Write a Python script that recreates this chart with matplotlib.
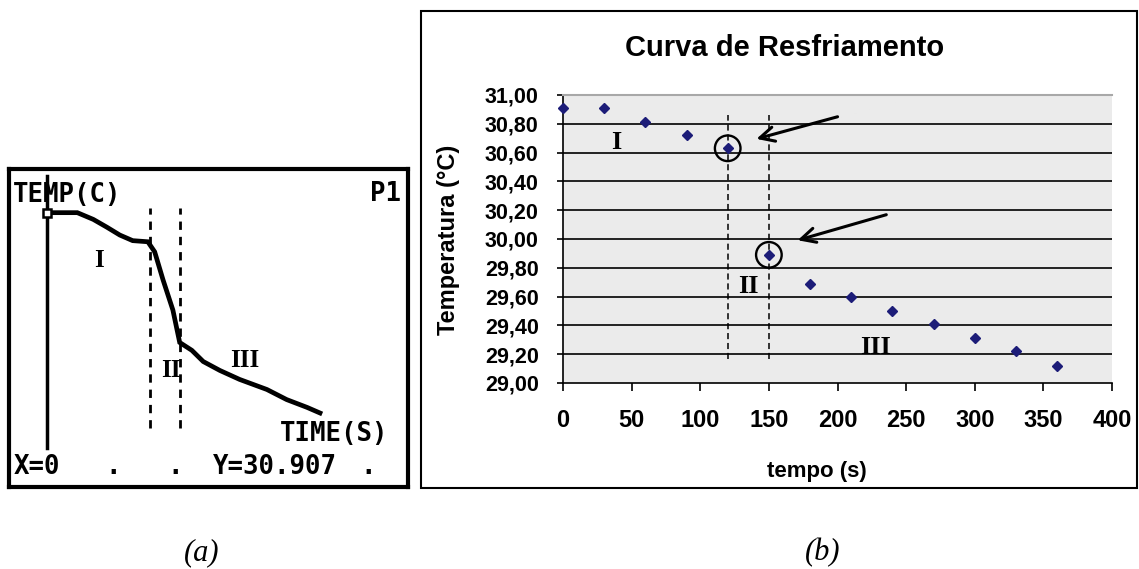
import matplotlib
matplotlib.use('Agg')
import matplotlib.pyplot as plt
from matplotlib.patches import Rectangle

# dados da planilha (grafico b)
tempo = [0, 30, 60, 90, 120, 150, 180, 210, 240, 270, 300, 330, 360]
temperatura = [30.91, 30.91, 30.81, 30.72, 30.63, 29.89, 29.69, 29.60, 29.50, 29.41, 29.31, 29.22, 29.12]
circulados = [4, 5]
limites_fase = [120, 150]
y_ticks = [29.0, 29.2, 29.4, 29.6, 29.8, 30.0, 30.2, 30.4, 30.6, 30.8, 31.0]
x_ticks = [0, 50, 100, 150, 200, 250, 300, 350, 400]

calc_t = [0, 40, 61, 79, 96, 113, 133, 142, 153, 166, 175, 191, 206, 228, 254, 290, 316, 343, 360]
calc_T = [30.91, 30.91, 30.85, 30.78, 30.71, 30.66, 30.65, 30.56, 30.31, 30.04, 29.75, 29.68,
          29.58, 29.50, 29.42, 29.33, 29.24, 29.17, 29.12]
calc_limites = [136, 175]

W, H = 1139, 569
fig = plt.figure(figsize=(11.39, 5.69), dpi=100)

sans = 'Liberation Sans'
serif = 'Liberation Serif'
mono = 'DejaVu Sans Mono'

# ---------------- (a) tela da calculadora ----------------
ax_a = fig.add_axes([9 / W, 1 - 487 / H, 399 / W, 318 / H])
k_t = 1.3187      # s por pixel
k_T = 0.008935    # graus por pixel
ax_a.set_xlim((9 - 47) * k_t, (408 - 47) * k_t)
ax_a.set_ylim(30.907 - 274 * k_T, 30.907 + 44 * k_T)
ax_a.set_xticks([])
ax_a.set_yticks([])
for s in ax_a.spines.values():
    s.set_linewidth(3)
    s.set_color('black')

ax_a.axvline(0, ymin=0.122, ymax=0.978, color='black', lw=2.5, zorder=4)
ax_a.plot(calc_t, calc_T, color='black', lw=3.4, solid_joinstyle='miter', zorder=3)
ax_a.plot(calc_t[0], calc_T[0], 's', mfc='white', mec='black', ms=6, mew=1.8, zorder=5)
ax_a.vlines(calc_limites, 28.99, 30.95, colors='black', linestyles=(0, (3, 2.5)), lw=2)

txt = dict(family=mono, fontweight='bold', fontsize=18.5, transform=ax_a.transAxes, va='center')
ax_a.text(0.010, 0.918, 'TEMP(C)', ha='left', **txt)
ax_a.text(0.905, 0.921, 'P1:', ha='left', clip_on=True, **txt)
ax_a.text(0.679, 0.166, 'TIME(S)', ha='left', **txt)
ax_a.text(0.0125, 0.063, 'X=0', ha='left', **txt)
ax_a.text(0.511, 0.063, 'Y=30.907', ha='left', **txt)
for xd in [0.261, 0.416, 0.900]:
    ax_a.text(xd, 0.063, '.', ha='center', **txt)

rom = dict(family=serif, fontweight='bold', fontsize=18, ha='center', va='center')
ax_a.text(68.6, 30.48, 'I', **rom)
ax_a.text(163.5, 29.50, 'II', **rom)
ax_a.text(261, 29.59, 'III', **rom)

# ---------------- (b) grafico do Excel ----------------
fig.patches.append(Rectangle((421 / W, 1 - 488 / H), 716 / W, 477 / H, transform=fig.transFigure,
                             fill=False, edgecolor='black', lw=1.5))

ax = fig.add_axes([563 / W, 1 - 383 / H, 549 / W, 288 / H])
ax.set_facecolor('#ebebeb')
ax.set_xlim(0, 400)
ax.set_ylim(29, 31)
ax.set_xticks(x_ticks)
ax.set_yticks(y_ticks)
ax.set_yticklabels([f'{v:.2f}'.replace('.', ',') for v in y_ticks])
ax.tick_params(axis='y', direction='out', length=4.5, width=1.2, pad=13, labelsize=15.5)
ax.tick_params(axis='x', direction='out', length=6, width=1.2, pad=13, labelsize=17)
for lab in ax.get_xticklabels() + ax.get_yticklabels():
    lab.set_fontfamily(sans)
    lab.set_fontweight('bold')

ax.spines['right'].set_visible(False)
ax.spines['top'].set_color('#a8a8a8')
ax.spines['top'].set_linewidth(1.5)
ax.spines['left'].set_linewidth(1.2)
ax.spines['bottom'].set_linewidth(1.2)

ax.hlines(y_ticks[1:-1], 0, 400, colors='black', lw=1.2, zorder=1)
ax.vlines(limites_fase, 29.17, 30.86, colors='black', linestyles=(0, (4, 2.5)), lw=1.1, zorder=2)
ax.plot(tempo, temperatura, 'D', color='#1c1c78', ms=5, zorder=3, clip_on=False)
ax.scatter([tempo[i] for i in circulados], [temperatura[i] for i in circulados], s=340,
           facecolors='none', edgecolors='black', linewidths=1.7, zorder=4)

seta = dict(arrowstyle='->', color='black', lw=2.2, mutation_scale=26)
ax.annotate('', xy=(139, 30.69), xytext=(202, 30.854), arrowprops=seta)
ax.annotate('', xy=(169, 29.986), xytext=(237.5, 30.174), arrowprops=seta)

rom_b = dict(family=serif, fontweight='bold', fontsize=19, ha='center', va='center')
ax.text(38.6, 30.67, 'I', **rom_b)
ax.text(134.8, 29.67, 'II', **rom_b)
ax.text(228, 29.25, 'III', **rom_b)

fig.text(785 / W, 1 - 48 / H, 'Curva de Resfriamento', family=sans, fontweight='bold',
         fontsize=21, ha='center', va='center')
fig.text(817 / W, 1 - 471 / H, 'tempo (s)', family=sans, fontweight='bold',
         fontsize=16, ha='center', va='center')
fig.text(449 / W, 1 - 240 / H, 'Temperatura (°C)', family=sans, fontweight='bold',
         fontsize=17, ha='center', va='center', rotation=90)

# legendas (a) e (b)
fig.text(202 / W, 1 - 553 / H, '(a)', family=serif, style='italic', fontsize=22, ha='center', va='center')
fig.text(823 / W, 1 - 553 / H, '(b)', family=serif, style='italic', fontsize=22, ha='center', va='center')

fig.savefig('out.png', dpi=100)
